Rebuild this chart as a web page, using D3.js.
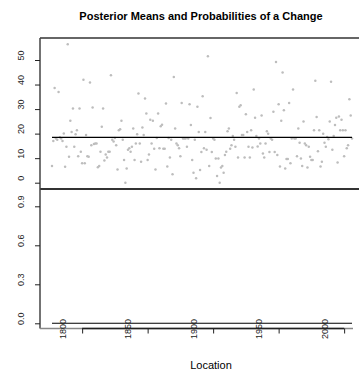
<!DOCTYPE html>
<html>
<head>
<meta charset="utf-8">
<script src="https://cdn.jsdelivr.net/npm/d3@7"></script>
<style>
  body { margin: 0; background: #fff; }
  svg { display: block; font-family: 'Liberation Sans', Arial, sans-serif; -webkit-font-smoothing: antialiased; }
</style>
</head>
<body>
<div id="chart"></div>
<script>
// one observation per location (year), starting at firstYear
const firstYear = 1792;
const values = [
  6.8, 17, 38.6, 18, 17.5, 37, 18.5, 18, 17, 20,
  6.5, 14.6, 56.4, 10.6, 25.2, 20.7, 30.2, 14.6, 19.7, 21.4,
  10.8, 30.2, 12.6, 7.9, 42, 7.9, 19.4, 10.8, 10.6, 40.8,
  15.3, 30.6, 15.8, 16, 16, 6.3, 6.8, 12.6, 22.8, 30.2,
  9, 11.5, 10.3, 12.6, 12.6, 43.8, 17.5, 16.8, 18.2, 15.3,
  5.4, 21.4, 21.8, 25.2, 17.5, 9.2, 0, 5.8, 13.4, 14,
  12.6, 14.6, 22.1, 9.2, 16, 19.7, 36.3, 16, 8.5, 22.5,
  19.4, 34.3, 28.2, 9.2, 11.5, 25.7, 16, 25.2, 13.8, 5.4,
  18.2, 28.2, 14, 23, 23.6, 13.8, 13.8, 32.3, 6.6, 18.2,
  10.3, 17.5, 3.4, 43.1, 22.1, 16, 15.3, 14, 10.8,
  32.5, 18, 18, 18, 14.6, 18, 32, 23.5, 9.2, 4.1,
  17.5, 1.8, 30.9, 20.7, 5.2, 12.5, 35.2, 14, 20.7, 13.4,
  51.5, 6.8, 26.4, 12.5, 18, 17.5, 9.9, 2.7, 9.9, 0,
  6.2, 6.8, 4.1, 11.3, 12.6, 21, 22.1, 13.8, 15.3, 19,
  17.5, 14.6, 36.6, 10.3, 30.9, 31.6, 19.4, 19.4, 10.3, 27.9,
  20.7, 14.6, 10.3, 21.4, 14.3, 38, 26.5, 19, 14.8, 18,
  16, 27.4, 11.9, 10.3, 16, 21, 19.9, 12.5, 18, 17.5,
  28.9, 12.5, 49.2, 11.3, 32, 6.6, 25.2, 44.9, 29.5, 5.8,
  9.7, 9.7, 32.5, 7.9, 18, 38, 18, 18, 10.8, 22.1,
  16.3, 9.9, 6.8, 24.9, 16, 15.3, 6.2, 14.6, 10.6, 9.2,
  9.2, 21.4, 41.5, 26.8, 12.8, 21.4, 6.6, 8.5, 19.9, 16.3,
  14.6, 18.6, 17.7, 24.9, 41.1, 13.4, 19, 23.5, 26.5, 8.2,
  27, 21.4, 25.7, 21.4, 10.8, 21.4, 14, 15.3, 34, 27.4,
  18
];

// posterior means (flat, no change found)
const postMeans = [
  18.5, 18.5, 18.5, 18.5, 18.5, 18.5, 18.5, 18.5, 18.5, 18.5, 18.5, 18.5, 18.5, 18.5, 18.5, 18.5, 18.5, 18.5, 18.5, 18.5, 18.5, 18.5, 18.5,
  18.5, 18.5, 18.5, 18.5, 18.5, 18.5, 18.5, 18.5, 18.5, 18.5, 18.5, 18.5, 18.5, 18.5, 18.5, 18.5, 18.5, 18.5, 18.5, 18.5, 18.5, 18.5, 18.5,
  18.5, 18.5, 18.5, 18.5, 18.5, 18.5, 18.5, 18.5, 18.5, 18.5, 18.5, 18.5, 18.5, 18.5, 18.5, 18.5, 18.5, 18.5, 18.5, 18.5, 18.5, 18.5, 18.5,
  18.5, 18.5, 18.5, 18.5, 18.5, 18.5, 18.5, 18.5, 18.5, 18.5, 18.5, 18.5, 18.5, 18.5, 18.5, 18.5, 18.5, 18.5, 18.5, 18.5, 18.5, 18.5, 18.5,
  18.5, 18.5, 18.5, 18.5, 18.5, 18.5, 18.5, 18.5, 18.5, 18.5, 18.5, 18.5, 18.5, 18.5, 18.5, 18.5, 18.5, 18.5, 18.5, 18.5, 18.5, 18.5, 18.5,
  18.5, 18.5, 18.5, 18.5, 18.5, 18.5, 18.5, 18.5, 18.5, 18.5, 18.5, 18.5, 18.5, 18.5, 18.5, 18.5, 18.5, 18.5, 18.5, 18.5, 18.5, 18.5, 18.5,
  18.5, 18.5, 18.5, 18.5, 18.5, 18.5, 18.5, 18.5, 18.5, 18.5, 18.5, 18.5, 18.5, 18.5, 18.5, 18.5, 18.5, 18.5, 18.5, 18.5, 18.5, 18.5, 18.5,
  18.5, 18.5, 18.5, 18.5, 18.5, 18.5, 18.5, 18.5, 18.5, 18.5, 18.5, 18.5, 18.5, 18.5, 18.5, 18.5, 18.5, 18.5, 18.5, 18.5, 18.5, 18.5, 18.5,
  18.5, 18.5, 18.5, 18.5, 18.5, 18.5, 18.5, 18.5, 18.5, 18.5, 18.5, 18.5, 18.5, 18.5, 18.5, 18.5, 18.5, 18.5, 18.5, 18.5, 18.5, 18.5, 18.5,
  18.5, 18.5, 18.5, 18.5, 18.5, 18.5, 18.5, 18.5, 18.5, 18.5, 18.5, 18.5, 18.5, 18.5, 18.5, 18.5, 18.5, 18.5, 18.5, 18.5, 18.5, 18.5, 18.5
];

// posterior probability of a change at each location
const postProbs = [
  0, 0, 0, 0, 0, 0, 0, 0, 0, 0, 0, 0, 0, 0, 0, 0, 0, 0, 0, 0, 0, 0, 0,
  0, 0, 0, 0, 0, 0, 0, 0, 0, 0, 0, 0, 0, 0, 0, 0, 0, 0, 0, 0, 0, 0, 0,
  0, 0, 0, 0, 0, 0, 0, 0, 0, 0, 0, 0, 0, 0, 0, 0, 0, 0, 0, 0, 0, 0, 0,
  0, 0, 0, 0, 0, 0, 0, 0, 0, 0, 0, 0, 0, 0, 0, 0, 0, 0, 0, 0, 0, 0, 0,
  0, 0, 0, 0, 0, 0, 0, 0, 0, 0, 0, 0, 0, 0, 0, 0, 0, 0, 0, 0, 0, 0, 0,
  0, 0, 0, 0, 0, 0, 0, 0, 0, 0, 0, 0, 0, 0, 0, 0, 0, 0, 0, 0, 0, 0, 0,
  0, 0, 0, 0, 0, 0, 0, 0, 0, 0, 0, 0, 0, 0, 0, 0, 0, 0, 0, 0, 0, 0, 0,
  0, 0, 0, 0, 0, 0, 0, 0, 0, 0, 0, 0, 0, 0, 0, 0, 0, 0, 0, 0, 0, 0, 0,
  0, 0, 0, 0, 0, 0, 0, 0, 0, 0, 0, 0, 0, 0, 0, 0, 0, 0, 0, 0, 0, 0, 0,
  0, 0, 0, 0, 0, 0, 0, 0, 0, 0, 0, 0, 0, 0, 0, 0, 0, 0, 0, 0, 0, 0, 0
];

const meanTicks = [0, 10, 20, 30, 40, 50];
const probTicks = [0, 0.3, 0.6, 0.9];
const yearLabels = [1800, 1850, 1900, 1950, 2000];
const yearTicks = [1815, 1865, 1915, 1965, 2015];

const width = 359;
const height = 374;
const frame = { left: 40, right: 359, top: 38, mid: 189, bottom: 328.5 };

const years = values.map((d, i) => firstYear + i);

const svg = d3.select('#chart').append('svg')
  .attr('width', width)
  .attr('height', height);

// scales
const xScale = d3.scaleLinear()
  .domain([firstYear, years[years.length - 1]])
  .range([52, 352]);

const yTop = d3.scaleLinear()
  .domain([0, 50])
  .range([182.7, 60]);

const yBot = d3.scaleLinear()
  .domain([0, 1])
  .range([323.3, 193.3]);

// title
svg.append('text')
  .attr('x', 201)
  .attr('y', 19.5)
  .attr('text-anchor', 'middle')
  .style('font-size', '11px')
  .style('font-weight', 'bold')
  .text('Posterior Means and Probabilities of a Change');

// top panel points
svg.append('g')
  .selectAll('circle')
  .data(values)
  .enter().append('circle')
  .attr('cx', (d, i) => xScale(years[i]))
  .attr('cy', d => yTop(d))
  .attr('r', 1.25)
  .style('fill', '#bdbdbd');

// posterior mean line
const meanLine = d3.line()
  .x((d, i) => xScale(years[i]))
  .y(d => yTop(d));

svg.append('path')
  .datum(postMeans)
  .attr('d', meanLine)
  .style('fill', 'none')
  .style('stroke', '#000')
  .style('stroke-width', 1.3);

// probability line
const probLine = d3.line()
  .x((d, i) => xScale(years[i]))
  .y(d => yBot(d));

svg.append('path')
  .datum(postProbs)
  .attr('d', probLine)
  .style('fill', 'none')
  .style('stroke', '#000')
  .style('stroke-width', 1.1);

// frame lines
svg.append('line')
  .attr('x1', frame.left).attr('x2', frame.right)
  .attr('y1', frame.top).attr('y2', frame.top)
  .style('stroke', '#333').style('stroke-width', 1.3);

svg.append('line')
  .attr('x1', frame.left).attr('x2', frame.right)
  .attr('y1', frame.mid).attr('y2', frame.mid)
  .style('stroke', '#333').style('stroke-width', 2);

svg.append('line')
  .attr('x1', frame.left).attr('x2', frame.left)
  .attr('y1', frame.top).attr('y2', frame.bottom)
  .style('stroke', '#444').style('stroke-width', 1.5);

svg.append('line')
  .attr('x1', frame.left).attr('x2', 353)
  .attr('y1', frame.bottom).attr('y2', frame.bottom)
  .style('stroke', '#888').style('stroke-width', 1.5);

// y axes
function leftAxis(scale, ticks, fmt) {
  const g = svg.append('g')
    .attr('transform', `translate(${frame.left},0)`)
    .call(d3.axisLeft(scale).tickValues(ticks).tickSize(5).tickFormat(fmt));
  g.select('.domain').remove();
  g.selectAll('line').style('stroke', '#222');
  g.selectAll('text')
    .attr('transform', 'rotate(-90)')
    .attr('x', 5)
    .attr('y', -16)
    .attr('dy', 0)
    .style('text-anchor', 'middle')
    .style('font-size', '9px')
    .style('font-family', "'Liberation Sans', Arial, sans-serif")
    .style('fill', '#222');
}

leftAxis(yTop, meanTicks, d3.format('d'));
leftAxis(yBot, probTicks, d3.format('.1f'));

// x axis: ticks and labels
const xg = svg.append('g')
  .attr('transform', `translate(0,${frame.bottom})`)
  .call(d3.axisBottom(xScale).tickValues(yearTicks).tickSize(5).tickFormat(''));
xg.select('.domain').remove();
xg.selectAll('line').style('stroke', '#222');

svg.append('line')
  .attr('x1', xScale(yearTicks[0])).attr('x2', xScale(yearTicks[yearTicks.length - 1]))
  .attr('y1', frame.bottom).attr('y2', frame.bottom)
  .style('stroke', '#222').style('stroke-width', 1.5);

svg.append('g')
  .selectAll('text')
  .data(yearLabels)
  .enter().append('text')
  .attr('transform', d => `translate(${xScale(d) + 3.3},319) rotate(-90)`)
  .attr('text-anchor', 'end')
  .style('font-size', '9px')
  .style('fill', '#222')
  .text(d => d);

// x title
svg.append('text')
  .attr('x', 211)
  .attr('y', 369)
  .attr('text-anchor', 'middle')
  .style('font-size', '11px')
  .text('Location');
</script>
</body>
</html>
